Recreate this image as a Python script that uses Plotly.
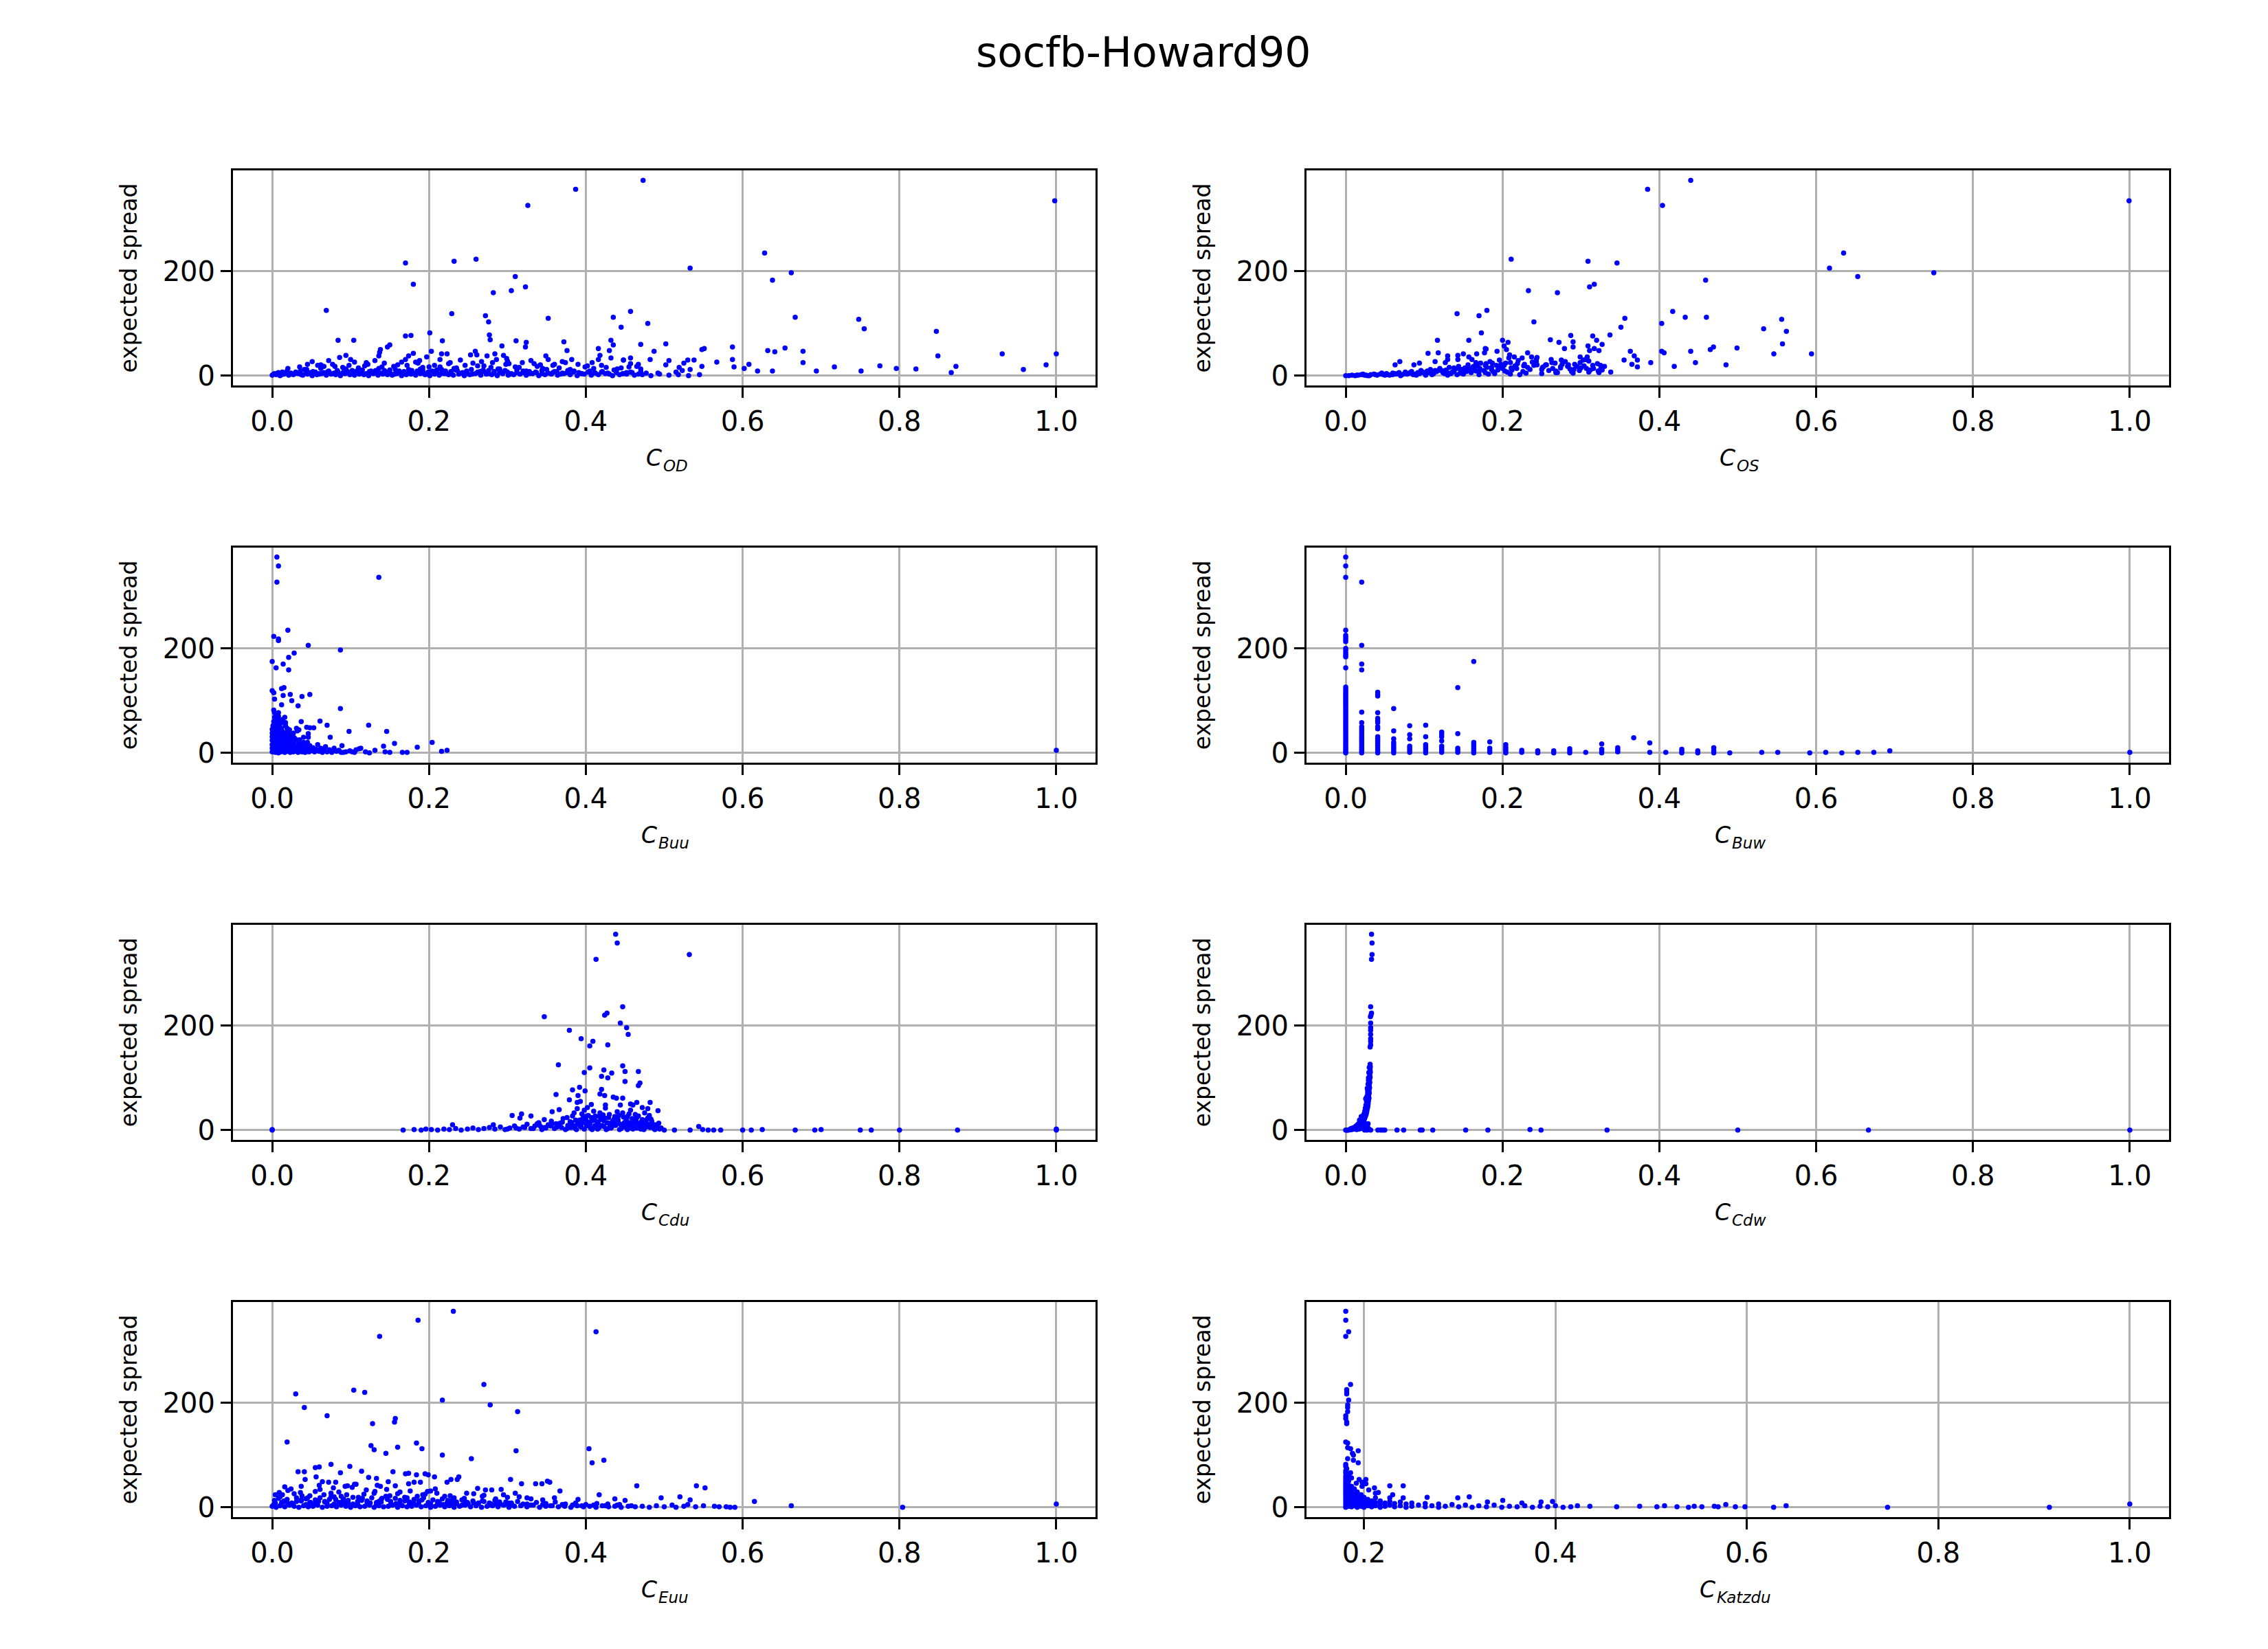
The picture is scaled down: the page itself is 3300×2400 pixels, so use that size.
import plotly.graph_objects as go

# values (x = centrality score, y = expected spread)

od_x = [
    # sparse / outlying nodes
    0.473, 0.387, 0.326, 0.998, 0.170, 0.232, 0.260, 0.628, 0.533, 0.662,
    0.638, 0.310, 0.180, 0.323, 0.305, 0.282, 0.069, 0.229, 0.272, 0.276,
    0.352, 0.435, 0.457, 0.479, 0.445, 0.667, 0.748, 0.755, 0.847, 0.849,
    0.931, 1.000, 0.987, 0.958, 0.866, 0.872, 0.821, 0.796, 0.775, 0.751,
    0.717, 0.694, 0.677, 0.677, 0.654, 0.632, 0.641, 0.608, 0.602, 0.619,
    0.638, 0.587, 0.587, 0.589, 0.567, 0.551, 0.548, 0.548, 0.538, 0.530,
    0.525, 0.533, 0.502, 0.487, 0.470, 0.457, 0.448, 0.432, 0.435, 0.430,
    0.416, 0.418, 0.201, 0.170, 0.177, 0.084, 0.104, 0.150, 0.147, 0.217,
    0.277, 0.278, 0.293, 0.311, 0.324, 0.323, 0.372, 0.376, 0.138, 0.094,
    0.086,
    # middle of the cloud
    0.051, 0.062, 0.072, 0.077, 0.100, 0.120, 0.131, 0.136, 0.137, 0.160,
    0.170, 0.174, 0.180, 0.183, 0.197, 0.203, 0.214, 0.216, 0.223, 0.227,
    0.253, 0.259, 0.261, 0.267, 0.274, 0.284, 0.286, 0.295, 0.299, 0.302,
    0.319, 0.330, 0.334, 0.349, 0.352, 0.360, 0.374, 0.382, 0.399, 0.408,
    0.416, 0.432, 0.448, 0.457, 0.467, 0.482, 0.502, 0.506, 0.519, 0.523,
    # dense band near zero
    0.000, 0.005, 0.010, 0.015, 0.021, 0.027, 0.033, 0.039, 0.045, 0.051,
    0.057, 0.063, 0.069, 0.075, 0.081, 0.087, 0.093, 0.099, 0.105, 0.111,
    0.117, 0.123, 0.129, 0.135, 0.141, 0.147, 0.153, 0.159, 0.165, 0.171,
    0.177, 0.183, 0.189, 0.195, 0.201, 0.207, 0.213, 0.219, 0.225, 0.231,
    0.238, 0.245, 0.252, 0.259, 0.266, 0.273, 0.280, 0.287, 0.294, 0.301,
    0.308, 0.316, 0.324, 0.332, 0.340, 0.348, 0.356, 0.364, 0.372, 0.380,
    0.389, 0.398, 0.407, 0.416, 0.425, 0.434, 0.443, 0.452, 0.462, 0.472,
    0.483, 0.494, 0.506, 0.518, 0.531, 0.545,
    0.008, 0.019, 0.030, 0.041, 0.052, 0.062, 0.073, 0.083, 0.094, 0.104,
    0.115, 0.126, 0.136, 0.146, 0.157, 0.168, 0.178, 0.189, 0.199, 0.210,
    0.221, 0.232, 0.243, 0.254, 0.265, 0.276, 0.288, 0.300, 0.312, 0.324,
    0.337, 0.350, 0.363, 0.377, 0.391, 0.405, 0.420, 0.436, 0.452, 0.470,
    0.492, 0.515,
    0.035, 0.058, 0.090, 0.122, 0.155, 0.186, 0.214, 0.246, 0.279, 0.298,
    0.338, 0.366, 0.402, 0.426, 0.465,
    0.003, 0.013, 0.024, 0.036, 0.048, 0.060, 0.071, 0.079, 0.091, 0.102,
    0.113, 0.124, 0.133, 0.143, 0.151, 0.162, 0.174, 0.185, 0.193, 0.205,
    0.216, 0.228, 0.236, 0.249, 0.262, 0.270, 0.283, 0.291, 0.305, 0.320,
    0.328, 0.344, 0.358, 0.370, 0.384, 0.395, 0.411, 0.428, 0.447, 0.459,
    0.020, 0.044, 0.066, 0.098, 0.110, 0.140, 0.165, 0.192, 0.207, 0.235,
    0.256, 0.270, 0.290, 0.310, 0.345, 0.358, 0.380, 0.410, 0.440, 0.455,
    0.002, 0.007, 0.012, 0.018, 0.024, 0.030, 0.037, 0.043, 0.049, 0.055,
    0.060, 0.066, 0.072, 0.078, 0.084, 0.090, 0.096, 0.102, 0.108, 0.114,
    0.120, 0.126, 0.132, 0.138, 0.144, 0.150, 0.156, 0.162, 0.168, 0.174,
    0.180, 0.186, 0.192, 0.198, 0.204, 0.210, 0.216, 0.222, 0.228, 0.234,
    0.241, 0.248, 0.255, 0.262, 0.269, 0.276, 0.283, 0.290, 0.297, 0.304,
    0.312, 0.320, 0.328, 0.336, 0.344, 0.352, 0.360, 0.368, 0.376, 0.385,
    0.394, 0.403, 0.412, 0.421, 0.430, 0.439, 0.448, 0.457, 0.467, 0.477,
    0.045, 0.080, 0.105, 0.118, 0.143, 0.172, 0.188, 0.200, 0.225, 0.240,
    0.262, 0.281, 0.300, 0.315, 0.342, 0.370, 0.390, 0.420, 0.445, 0.470,
]
od_y = [
    374, 357, 326, 335, 216, 219, 223, 235, 206, 197,
    183, 190, 175, 170, 163, 159, 125, 119, 115, 103,
    110, 112, 123, 100, 93, 112, 108, 90, 85, 38,
    42, 42, 21, 12, 6, 18, 13, 14, 19, 9,
    17, 9, 47, 25, 53, 48, 46, 22, 14, 9,
    9, 55, 31, 17, 26, 52, 50, 18, 30, 30,
    24, 12, 61, 47, 60, 34, 30, 68, 59, 48,
    52, 39, 82, 76, 77, 68, 68, 59, 55, 67,
    78, 69, 57, 67, 64, 55, 65, 48, 50, 39,
    35,
    27, 21, 29, 22, 31, 25, 29, 38, 45, 21,
    31, 38, 43, 26, 36, 47, 31, 42, 42, 25,
    40, 47, 40, 27, 38, 42, 31, 39, 33, 23,
    25, 29, 23, 38, 31, 22, 25, 31, 17, 25,
    31, 34, 30, 23, 22, 31, 21, 29, 16, 10,
    1, 2, 0, 3, 1, 2, 4, 1, 3, 0,
    2, 4, 1, 3, 2, 0, 4, 2, 1, 3,
    2, 0, 4, 1, 3, 2, 1, 4, 0, 2,
    3, 1, 4, 2, 0, 3, 1, 4, 2, 1,
    3, 0, 2, 4, 1, 3, 2, 0, 4, 1,
    2, 3, 1, 4, 0, 2, 3, 1, 4, 2,
    0, 3, 1, 2, 4, 0, 2, 3, 1, 2,
    0, 3, 1, 2, 0, 2,
    6, 9, 7, 12, 8, 14, 6, 10, 13, 7,
    11, 9, 14, 6, 12, 8, 10, 13, 7, 11,
    9, 14, 6, 12, 8, 10, 13, 7, 11, 9,
    6, 12, 8, 10, 6, 9, 7, 11, 6, 8,
    5, 7,
    17, 20, 16, 22, 18, 24, 17, 20, 16, 22,
    18, 15, 19, 16, 18,
    4, 7, 5, 9, 6, 4, 8, 5, 7, 10,
    5, 8, 6, 10, 4, 7, 5, 9, 6, 8,
    5, 7, 10, 4, 6, 8, 5, 9, 4, 6,
    8, 4, 6, 5, 7, 4, 6, 5, 4, 6,
    14, 12, 18, 20, 15, 17, 26, 16, 20, 15,
    24, 19, 13, 17, 14, 20, 12, 14, 13, 17,
    3, 5, 2, 6, 3, 5, 2, 6, 4, 7,
    3, 6, 9, 4, 7, 5, 8, 3, 9, 6,
    4, 7, 10, 5, 8, 11, 3, 9, 6, 12,
    5, 8, 11, 3, 9, 6, 12, 4, 8, 11,
    5, 9, 3, 7, 11, 4, 8, 6, 10, 3,
    6, 9, 4, 7, 10, 5, 8, 3, 6, 9,
    4, 7, 5, 8, 3, 6, 4, 7, 3, 5,
    22, 18, 26, 19, 24, 20, 29, 17, 23, 30,
    19, 25, 28, 16, 21, 27, 22, 20, 15, 13,
]

os_x = [
    0.440, 0.385, 0.404, 0.999, 0.211, 0.309, 0.346, 0.635, 0.617, 0.653,
    0.750, 0.459, 0.311, 0.317, 0.233, 0.270, 0.142, 0.170, 0.180, 0.240,
    0.356, 0.351, 0.417, 0.433, 0.460, 0.403, 0.556, 0.533, 0.562, 0.557,
    0.546, 0.594, 0.499, 0.485, 0.469, 0.465, 0.446, 0.440, 0.419, 0.406,
    0.403, 0.389, 0.372, 0.372, 0.368, 0.363, 0.365, 0.355, 0.337, 0.327,
    0.320, 0.315, 0.317, 0.311, 0.323, 0.309, 0.290, 0.290, 0.287, 0.279,
    0.272, 0.261, 0.173, 0.157, 0.117, 0.200, 0.207, 0.179, 0.118, 0.105,
    0.130, 0.143, 0.150, 0.167, 0.325, 0.327, 0.325, 0.268, 0.299, 0.306,
    0.063, 0.069, 0.087, 0.094, 0.114, 0.127, 0.130, 0.143, 0.157, 0.161,
    0.166, 0.177, 0.178, 0.193, 0.202, 0.205, 0.209, 0.215, 0.225, 0.232,
    0.237, 0.243, 0.244, 0.255, 0.263, 0.274, 0.284, 0.295, 0.303, 0.308,
    0.321,
    0.000, 0.004, 0.008, 0.012, 0.016, 0.020, 0.024, 0.028, 0.032, 0.036,
    0.040, 0.044, 0.048, 0.052, 0.056, 0.060, 0.064, 0.068, 0.072, 0.076,
    0.080, 0.084, 0.088, 0.092, 0.096, 0.100, 0.104, 0.108, 0.112, 0.116,
    0.120, 0.124, 0.128, 0.132, 0.136, 0.140, 0.144, 0.148, 0.152, 0.156,
    0.160, 0.164, 0.168, 0.172, 0.176, 0.180, 0.184, 0.188, 0.192, 0.196,
    0.200, 0.204, 0.208, 0.212, 0.216, 0.220, 0.226, 0.232, 0.238, 0.244,
    0.250, 0.256, 0.262, 0.268, 0.274, 0.280, 0.286, 0.292, 0.298, 0.304,
    0.310, 0.316, 0.322, 0.330, 0.338,
    0.030, 0.050, 0.070, 0.090, 0.110, 0.130, 0.150, 0.170, 0.190, 0.210,
    0.230, 0.250, 0.270, 0.290, 0.310, 0.102, 0.142, 0.182, 0.222,
    0.022, 0.046, 0.066, 0.086, 0.106, 0.126, 0.146, 0.166, 0.186, 0.206,
    0.118, 0.138, 0.158, 0.178, 0.198,
    0.060, 0.075, 0.090, 0.098, 0.110, 0.122, 0.134, 0.146, 0.154, 0.162,
    0.170, 0.178, 0.186, 0.194, 0.202, 0.210, 0.218, 0.228, 0.240, 0.252,
    0.264, 0.276, 0.288, 0.300, 0.312,
    0.014, 0.026, 0.038, 0.054, 0.062, 0.078, 0.082, 0.094, 0.103, 0.114,
    0.124, 0.131, 0.138, 0.148, 0.156, 0.163, 0.171, 0.179, 0.187, 0.195,
    0.203, 0.211, 0.219, 0.227, 0.235, 0.243, 0.251, 0.259, 0.267, 0.275,
    0.283, 0.291, 0.299, 0.307, 0.315, 0.323,
]
os_y = [
    374, 357, 326, 335, 223, 219, 216, 235, 206, 190,
    197, 183, 170, 175, 163, 159, 119, 115, 125, 103,
    110, 93, 123, 112, 112, 100, 108, 90, 85, 61,
    42, 42, 53, 21, 55, 50, 25, 47, 18, 44,
    47, 25, 17, 30, 38, 47, 22, 30, 78, 60,
    68, 76, 52, 48, 48, 57, 65, 55, 77, 52,
    64, 69, 82, 68, 68, 68, 64, 51, 44, 43,
    38, 39, 42, 42, 12, 11, 20, 6, 36, 31,
    21, 27, 21, 24, 27, 25, 31, 31, 36, 31,
    25, 44, 52, 47, 57, 50, 40, 36, 34, 44,
    36, 31, 21, 21, 25, 15, 21, 18, 30, 36,
    23,
    0, 0, 1, 0, 1, 2, 1, 0, 2, 3,
    1, 3, 2, 4, 1, 5, 3, 6, 2, 7,
    4, 8, 3, 6, 10, 5, 9, 12, 4, 8,
    14, 6, 11, 16, 7, 13, 18, 9, 15, 21,
    6, 12, 19, 24, 10, 16, 27, 8, 20, 30,
    14, 24, 34, 11, 19, 29, 8, 16, 26, 35,
    12, 21, 31, 9, 17, 27, 13, 22, 10, 19,
    28, 14, 9, 18, 7,
    0, 1, 0, 1, 2, 1, 3, 2, 4, 3,
    5, 4, 6, 5, 7, 1, 2, 3, 2,
    3, 5, 4, 2, 6, 4, 5, 9, 12, 7,
    10, 8, 14, 6, 22,
    2, 4, 2, 7, 6, 10, 4, 12, 8, 16,
    8, 20, 16, 11, 20, 25, 14, 22, 20, 17,
    14, 22, 8, 15, 11,
    1, 1, 2, 2, 4, 3, 6, 4, 7, 10,
    9, 5, 15, 12, 10, 18, 14, 23, 24, 17,
    9, 15, 23, 19, 12, 27, 16, 10, 24, 30,
    18, 12, 25, 14, 20, 6,
]

buu_x = [
    0.006, 0.008, 0.006, 0.136, 0.020, 0.002, 0.008, 0.008, 0.046, 0.087,
    0.028, 0.021, 0.000, 0.005, 0.014, 0.021, 0.000, 0.002, 0.012, 0.015,
    0.014, 0.023, 0.048, 0.038, 0.025, 0.003, 0.012, 0.033, 0.087, 0.002,
    0.008, 0.003, 0.016, 0.037, 0.061, 0.070, 0.123, 0.146, 0.098, 0.074,
    0.053, 0.044, 0.048, 0.034, 0.031, 0.046, 0.046, 0.089, 0.142, 0.156,
    0.185, 0.204, 0.216, 0.223, 0.166, 0.172, 0.150, 0.144, 0.131, 0.124,
    0.119, 0.113, 0.111, 0.107, 0.105, 0.094, 0.091, 1.000,
    0.000, 0.000, 0.000, 0.000, 0.000, 0.000, 0.000, 0.001, 0.001, 0.001,
    0.002, 0.002, 0.002, 0.002, 0.003, 0.003, 0.003, 0.004, 0.004, 0.004,
    0.005, 0.005, 0.005, 0.006, 0.006, 0.006, 0.007, 0.007, 0.007, 0.008,
    0.008, 0.008, 0.008, 0.009, 0.009, 0.009, 0.010, 0.010, 0.011, 0.011,
    0.011, 0.012, 0.012, 0.013, 0.013, 0.013, 0.014, 0.014, 0.015, 0.015,
    0.016, 0.016, 0.017, 0.017, 0.018, 0.018, 0.019, 0.020, 0.020, 0.021,
    0.022, 0.022, 0.023, 0.023, 0.024, 0.025, 0.026, 0.026, 0.027, 0.028,
    0.029, 0.030, 0.031, 0.032, 0.033, 0.034, 0.035, 0.036, 0.037, 0.038,
    0.039, 0.040, 0.041, 0.042, 0.043, 0.044, 0.045, 0.046, 0.047, 0.048,
    0.050, 0.052, 0.054, 0.056, 0.058, 0.060, 0.062, 0.064, 0.066, 0.068,
    0.070, 0.073, 0.076, 0.079, 0.082, 0.085, 0.088, 0.099, 0.102,
    0.001, 0.002, 0.003, 0.004, 0.005, 0.006, 0.007, 0.009, 0.010, 0.012,
    0.014, 0.016, 0.018, 0.019, 0.021, 0.024, 0.027, 0.030, 0.032, 0.035,
    0.003, 0.006, 0.010, 0.013, 0.017, 0.020, 0.024, 0.028, 0.034, 0.040,
]
buu_y = [
    375, 358, 327, 336, 235, 223, 218, 215, 206, 197,
    191, 183, 175, 163, 170, 159, 119, 115, 123, 125,
    110, 112, 112, 108, 100, 103, 92, 90, 85, 82,
    77, 77, 68, 60, 61, 53, 53, 41, 41, 30,
    48, 49, 48, 44, 47, 37, 30, 14, 13, 18,
    11, 20, 3, 5, 1, 1, 1, 2, 5, 0,
    2, 9, 8, 6, 1, 2, 1, 5,
    2, 9, 16, 24, 31, 38, 45, 52, 4, 12,
    20, 28, 36, 60, 6, 14, 42, 1, 22, 48,
    10, 30, 56, 3, 18, 66, 8, 26, 40, 0,
    14, 34, 70, 5, 22, 50, 11, 29, 2, 17,
    44, 7, 25, 13, 36, 58, 4, 20, 9, 30,
    1, 15, 24, 52, 6, 39, 12, 3, 19, 28,
    8, 44, 1, 15, 24, 5, 11, 34, 2, 18,
    7, 26, 3, 13, 1, 21, 8, 4, 15, 2,
    10, 30, 6, 1, 12, 4, 20, 8, 2, 14,
    5, 10, 2, 7, 16, 3, 9, 1, 5, 12,
    2, 6, 1, 9, 3, 5, 1, 4, 2,
    28, 46, 33, 55, 44, 49, 60, 36, 62, 47,
    40, 33, 26, 47, 37, 32, 38, 13, 42, 25,
    68, 74, 56, 64, 58, 10, 6, 29, 11, 20,
]

# C_Buw takes only a few discrete values, so the points stack in columns
buw_x = [
    0.0, 0.0, 0.0, 0.0, 0.0, 0.0, 0.0, 0.0, 0.0, 0.0,
    0.0, 0.0, 0.0, 0.0, 0.0, 0.0, 0.0, 0.0, 0.0, 0.0,
    0.0, 0.0, 0.0, 0.0, 0.0, 0.0, 0.0, 0.0, 0.0, 0.0,
    0.0, 0.0, 0.0, 0.0, 0.0, 0.0, 0.0, 0.0, 0.0, 0.0,
    0.0, 0.0, 0.0, 0.0, 0.0, 0.0, 0.0,
    0.0204, 0.0204, 0.0204, 0.0204, 0.0204, 0.0204, 0.0204, 0.0204, 0.0204, 0.0204,
    0.0204, 0.0204, 0.0204, 0.0204, 0.0204, 0.0204, 0.0204, 0.0204, 0.0204, 0.0204,
    0.0408, 0.0408, 0.0408, 0.0408, 0.0408, 0.0408, 0.0408, 0.0408, 0.0408, 0.0408,
    0.0408, 0.0408, 0.0408, 0.0408, 0.0408, 0.0408, 0.0408, 0.0408,
    0.0612, 0.0612, 0.0612, 0.0612, 0.0612, 0.0612, 0.0612, 0.0612, 0.0612,
    0.0816, 0.0816, 0.0816, 0.0816, 0.0816, 0.0816, 0.0816,
    0.1020, 0.1020, 0.1020, 0.1020, 0.1020, 0.1020, 0.1020,
    0.1224, 0.1224, 0.1224, 0.1224, 0.1224, 0.1224, 0.1224, 0.1224,
    0.1429, 0.1429, 0.1429, 0.1429, 0.1429,
    0.1633, 0.1633, 0.1633, 0.1633, 0.1633, 0.1633, 0.1633,
    0.1837, 0.1837, 0.1837, 0.1837,
    0.2041, 0.2041, 0.2041, 0.2041, 0.2041,
    0.2245, 0.2245,
    0.2449, 0.2449,
    0.2653, 0.2653,
    0.2857, 0.2857, 0.2857,
    0.3061,
    0.3265, 0.3265, 0.3265, 0.3265,
    0.3469, 0.3469, 0.3469,
    0.3673,
    0.3878, 0.3878,
    0.4082,
    0.4286, 0.4286, 0.4286,
    0.4490, 0.4490,
    0.4694, 0.4694, 0.4694,
    0.4898,
    0.5306, 0.5510, 0.5918, 0.6122, 0.6327, 0.6531, 0.6735, 0.6939, 1.0,
]
buw_y = [
    375, 358, 336, 235, 225, 221, 217, 213, 200, 196,
    191, 187, 184, 163, 126, 122, 118, 114, 110, 106,
    102, 98, 94, 90, 86, 82, 78, 74, 70, 66,
    62, 58, 54, 50, 46, 42, 38, 34, 30, 26,
    22, 18, 14, 10, 6, 2, 0,
    327, 206, 170, 159, 78, 58, 50, 46, 42, 38,
    34, 30, 26, 22, 18, 14, 10, 6, 2, 0,
    116, 112, 109, 77, 66, 62, 58, 50, 46, 31,
    27, 23, 19, 15, 11, 7, 3, 0,
    85, 42, 27, 20, 16, 12, 8, 4, 0,
    52, 35, 27, 13, 9, 5, 1,
    53, 31, 16, 12, 8, 4, 0,
    40, 36, 31, 23, 13, 9, 5, 1,
    125, 37, 9, 5, 1,
    175, 20, 16, 12, 8, 4, 0,
    21, 9, 5, 1,
    16, 11, 7, 3, 0,
    5, 1,
    4, 0,
    4, 0,
    8, 4, 0,
    1,
    17, 7, 3, 0,
    10, 6, 2,
    29,
    19, 1,
    1,
    7, 3, 0,
    4, 0,
    10, 4, 0,
    0,
    1, 1, 0, 1, 0, 1, 1, 4, 1,
]

cdu_x = [
    0.438, 0.440, 0.413, 0.532, 0.447, 0.427, 0.424, 0.347, 0.444, 0.452,
    0.454, 0.379, 0.394, 0.409, 0.405, 0.428, 0.365, 0.405, 0.398, 0.423,
    0.433, 0.420, 0.428, 0.447, 0.450, 0.467, 0.450, 0.469, 0.467, 0.392,
    0.383, 0.399, 0.420, 0.362, 0.379, 0.390, 0.389, 0.393, 0.418, 0.424,
    0.435, 0.439, 0.447, 0.482, 0.465, 0.479, 0.472, 0.492, 0.457, 0.460,
    0.444, 0.407, 0.425, 0.402, 0.389, 0.398, 0.366, 0.357, 0.318, 0.306,
    0.316, 0.330, 0.347, 0.230, 0.282,
    0.000, 0.000, 0.167, 0.181, 0.190, 0.196, 0.203, 0.211, 0.219, 0.226,
    0.234, 0.241, 0.249, 0.256, 0.263, 0.270, 0.277, 0.284, 0.291, 0.297,
    0.303, 0.309, 0.315, 0.320, 0.325, 0.330, 0.335, 0.340, 0.344, 0.348,
    0.352, 0.356, 0.360, 0.364, 0.367, 0.371, 0.374, 0.377, 0.380, 0.383,
    0.386, 0.389, 0.392, 0.395, 0.398, 0.401, 0.404, 0.407, 0.410, 0.413,
    0.416, 0.419, 0.422, 0.425, 0.428, 0.431, 0.434, 0.437, 0.440, 0.443,
    0.446, 0.449, 0.452, 0.455, 0.458, 0.461, 0.464, 0.467, 0.470, 0.473,
    0.476, 0.479, 0.482, 0.485, 0.488, 0.491, 0.494, 0.500, 0.513, 0.533,
    0.544, 0.549, 0.556, 0.563, 0.572, 0.600, 0.611, 0.625, 0.667, 0.692,
    0.700, 0.750, 0.764, 0.800, 0.874, 1.000, 1.000,
    0.400, 0.403, 0.406, 0.409, 0.412, 0.415, 0.418, 0.421, 0.424, 0.427,
    0.430, 0.433, 0.436, 0.439, 0.442, 0.445, 0.448, 0.451, 0.454, 0.457,
    0.460, 0.463, 0.466, 0.469, 0.472, 0.475, 0.478, 0.481, 0.484, 0.487,
    0.376, 0.381, 0.385, 0.391, 0.396, 0.362, 0.369, 0.355, 0.343, 0.338,
    0.384, 0.388, 0.394, 0.397, 0.402, 0.408, 0.411, 0.414, 0.417, 0.423,
    0.426, 0.429, 0.432, 0.438, 0.441, 0.444, 0.450, 0.453, 0.456, 0.459,
    0.462, 0.465, 0.468, 0.471, 0.474, 0.477, 0.480, 0.486, 0.490, 0.496,
    0.300, 0.311, 0.322, 0.333, 0.341, 0.349, 0.357, 0.363, 0.370, 0.376,
    0.382, 0.387, 0.393, 0.399, 0.405, 0.411, 0.417, 0.423, 0.429, 0.435,
    0.441, 0.447, 0.453, 0.459, 0.465, 0.471, 0.477, 0.483, 0.489, 0.493,
]
cdu_y = [
    375, 358, 327, 336, 236, 224, 220, 217, 205, 196,
    183, 191, 175, 170, 161, 163, 125, 119, 110, 115,
    109, 103, 100, 123, 112, 112, 93, 90, 85, 82,
    77, 75, 78, 68, 58, 66, 53, 55, 69, 66,
    63, 61, 61, 53, 53, 41, 43, 37, 50, 48,
    48, 49, 48, 43, 41, 38, 39, 35, 31, 28,
    23, 27, 20, 10, 10,
    0, 1, 0, 1, 0, 2, 1, 0, 2, 1,
    3, 0, 2, 4, 1, 3, 5, 2, 6, 1,
    4, 8, 2, 6, 11, 3, 8, 14, 1, 5,
    10, 17, 3, 7, 13, 22, 1, 9, 16, 27,
    4, 11, 19, 31, 2, 8, 15, 24, 36, 5,
    12, 20, 29, 42, 3, 9, 17, 26, 35, 1,
    7, 14, 22, 31, 4, 11, 19, 27, 2, 8,
    15, 23, 5, 12, 1, 6, 2, 0, 0, 0,
    7, 1, 0, 0, 0, 0, 0, 1, 0, 0,
    1, 0, 0, 0, 0, 0, 2,
    20, 28, 4, 18, 27, 2, 33, 9, 23, 14,
    30, 6, 21, 12, 28, 3, 25, 17, 9, 38,
    2, 30, 13, 6, 20, 33, 9, 28, 17, 3,
    24, 5, 33, 12, 22, 12, 5, 8, 6, 12,
    8, 1, 6, 14, 11, 1, 8, 16, 5, 7,
    1, 13, 4, 9, 16, 11, 6, 1, 14, 7,
    16, 4, 10, 13, 1, 6, 11, 7, 10, 4,
    2, 4, 5, 3, 9, 4, 12, 6, 15, 3,
    14, 19, 8, 26, 12, 22, 26, 18, 24, 14,
    20, 33, 26, 22, 24, 16, 19, 21, 8, 13,
]

cdw_x = [
    0.0329, 0.0336, 0.0336, 0.0329, 0.0318, 0.0329, 0.0322, 0.0315, 0.0318, 0.0318,
    0.0318, 0.0318, 0.0318, 0.0318, 0.0318, 0.0311,
    0.0311, 0.0314, 0.0311, 0.0314, 0.0307, 0.0311, 0.0304, 0.0307, 0.0300, 0.0304,
    0.0297, 0.0300, 0.0293, 0.0297, 0.0290, 0.0286, 0.0283, 0.0279, 0.0272, 0.0268,
    0.0262, 0.0255, 0.0248, 0.0240, 0.0233, 0.0224, 0.0216, 0.0205, 0.0194, 0.0184,
    0.0173, 0.0160, 0.0148, 0.0134, 0.0120, 0.0106, 0.0092, 0.0078, 0.0064, 0.0050,
    0.0036, 0.0022, 0.0010, 0.0000,
    0.0255, 0.0262, 0.0248, 0.0233, 0.0220, 0.0205, 0.0190, 0.0170, 0.0150, 0.0130,
    0.0110, 0.0090, 0.0070, 0.0176, 0.0198, 0.0280, 0.0275, 0.0290, 0.0295, 0.0300,
    0.0200, 0.0180, 0.0160, 0.0140, 0.0220, 0.0240,
    0.0318, 0.0410, 0.0445, 0.0470, 0.0498, 0.0654, 0.0739, 0.0951, 0.0975, 0.1110,
    0.1530, 0.1813, 0.2350, 0.2491, 0.3333, 0.5000, 0.6667, 1.0000, 0.0240, 0.0270,
    0.0290,
    0.0290, 0.0285, 0.0280, 0.0270, 0.0265, 0.0258, 0.0250, 0.0243, 0.0235, 0.0228,
    0.0210, 0.0195, 0.0180, 0.0165, 0.0150, 0.0135, 0.0120, 0.0100, 0.0080, 0.0060,
    0.0250, 0.0265, 0.0280, 0.0295, 0.0305, 0.0230, 0.0210, 0.0190, 0.0170, 0.0285,
]
cdw_y = [
    375, 358, 336, 327, 236, 224, 220, 217, 205, 196,
    191, 183, 175, 170, 163, 159,
    126, 121, 116, 111, 106, 101, 96, 91, 86, 81,
    76, 71, 66, 61, 56, 51, 47, 43, 39, 35,
    31, 28, 25, 22, 19, 16, 14, 12, 10, 8,
    7, 6, 5, 4, 3, 2, 2, 1, 1, 1,
    0, 0, 0, 0,
    60, 45, 35, 30, 25, 20, 15, 12, 9, 7,
    5, 4, 3, 19, 26, 70, 80, 95, 110, 120,
    6, 4, 2, 1, 9, 13,
    0, 0, 0, 0, 0, 0, 0, 0, 0, 0,
    0, 0, 1, 0, 0, 0, 0, 0, 0, 0,
    1,
    100, 88, 75, 64, 55, 48, 42, 36, 31, 27,
    22, 18, 15, 12, 10, 8, 6, 4, 3, 2,
    3, 4, 6, 2, 1, 8, 7, 3, 2, 12,
]

euu_x = [
    0.231, 0.186, 0.137, 0.413, 0.270, 0.030, 0.104, 0.118, 0.217, 0.278,
    0.041, 0.313, 0.070, 0.157, 0.156, 0.128, 0.019, 0.126, 0.130, 0.160,
    0.184, 0.191, 0.145, 0.217, 0.254, 0.311, 0.404, 0.408, 0.423, 0.075,
    0.099, 0.060, 0.055, 0.033, 0.041, 0.087, 0.114, 0.154, 0.170, 0.174,
    0.195, 0.199, 0.184, 0.207, 0.238, 0.236, 0.228, 0.123, 0.133, 0.056,
    0.042, 0.064, 0.304, 0.318, 0.336, 0.344, 0.351, 0.354, 0.367, 0.465,
    0.541, 0.552, 0.417, 0.437, 0.450, 0.496, 0.520, 0.533, 0.615, 0.662,
    0.804, 1.000, 0.564, 0.579, 0.584, 0.016, 0.009, 0.004, 0.037, 0.060,
    0.072, 0.081, 0.105, 0.107, 0.078, 0.093, 0.096, 0.134, 0.138, 0.157,
    0.174, 0.181, 0.189, 0.148, 0.262, 0.272, 0.280, 0.292, 0.310, 0.223,
    0.202, 0.198,
    0.000, 0.005, 0.010, 0.016, 0.022, 0.028, 0.034, 0.040, 0.046, 0.052,
    0.058, 0.064, 0.070, 0.076, 0.082, 0.088, 0.094, 0.100, 0.106, 0.112,
    0.118, 0.124, 0.130, 0.136, 0.142, 0.148, 0.154, 0.160, 0.166, 0.172,
    0.178, 0.184, 0.190, 0.196, 0.202, 0.208, 0.214, 0.220, 0.226, 0.232,
    0.239, 0.246, 0.253, 0.260, 0.267, 0.274, 0.281, 0.288, 0.295, 0.302,
    0.309, 0.317, 0.325, 0.333, 0.341, 0.349, 0.357, 0.365, 0.373, 0.381,
    0.389, 0.397, 0.405, 0.413, 0.421, 0.429, 0.437, 0.445, 0.454, 0.463,
    0.472, 0.481, 0.490, 0.500, 0.510, 0.515, 0.525, 0.530, 0.540, 0.550,
    0.570, 0.590,
    0.004, 0.015, 0.026, 0.037, 0.048, 0.059, 0.070, 0.081, 0.092, 0.103,
    0.114, 0.125, 0.136, 0.147, 0.158, 0.169, 0.180, 0.191, 0.202, 0.213,
    0.224, 0.235, 0.246, 0.257, 0.268, 0.279, 0.290, 0.301, 0.313, 0.325,
    0.337, 0.349, 0.361, 0.374, 0.387, 0.400, 0.414, 0.428, 0.443,
    0.010, 0.028, 0.045, 0.066, 0.085, 0.110, 0.130, 0.150, 0.172, 0.195,
    0.220, 0.245, 0.270, 0.300, 0.330, 0.360, 0.390,
    0.002, 0.012, 0.020, 0.031, 0.043, 0.055, 0.067, 0.079, 0.090, 0.097,
    0.109, 0.121, 0.133, 0.139, 0.151, 0.163, 0.175, 0.187, 0.199, 0.211,
    0.218, 0.229, 0.242, 0.250, 0.263, 0.276, 0.285, 0.297, 0.306, 0.320,
    0.330, 0.345, 0.355, 0.370, 0.383, 0.395, 0.410, 0.425, 0.440, 0.458,
    0.020, 0.038, 0.055, 0.075, 0.095, 0.120, 0.140, 0.163, 0.185, 0.210,
    0.232, 0.257, 0.285, 0.315, 0.345,
    0.003, 0.008, 0.014, 0.019, 0.025, 0.031, 0.037, 0.043, 0.049, 0.055,
    0.061, 0.067, 0.073, 0.079, 0.085, 0.091, 0.097, 0.103, 0.109, 0.115,
    0.121, 0.127, 0.133, 0.139, 0.145, 0.151, 0.157, 0.163, 0.169, 0.175,
    0.181, 0.187, 0.193, 0.199, 0.205, 0.211, 0.217, 0.223, 0.229, 0.235,
    0.242, 0.249, 0.256, 0.263, 0.270, 0.277, 0.284, 0.291, 0.298, 0.305,
    0.013, 0.024, 0.036, 0.048, 0.061, 0.075, 0.088, 0.102, 0.117, 0.131,
    0.146, 0.160, 0.176, 0.192, 0.208, 0.227, 0.248, 0.268, 0.295, 0.325,
]
euu_y = [
    375, 358, 327, 336, 235, 217, 224, 220, 205, 196,
    191, 183, 175, 170, 163, 160, 125, 118, 110, 115,
    123, 112, 103, 100, 93, 108, 112, 85, 90, 82,
    78, 77, 76, 68, 68, 66, 69, 68, 64, 65,
    64, 62, 62, 58, 58, 53, 53, 57, 55, 58,
    53, 49, 53, 45, 45, 45, 50, 48, 31, 41,
    41, 37, 24, 16, 13, 18, 20, 14, 11, 3,
    0, 6, 2, 1, 0, 39, 28, 24, 40, 42,
    48, 48, 44, 44, 37, 40, 41, 42, 40, 41,
    45, 48, 48, 49, 36, 33, 33, 34, 27, 48,
    31, 30,
    2, 0, 3, 1, 4, 2, 0, 3, 1, 2,
    4, 0, 2, 3, 1, 4, 2, 0, 3, 1,
    2, 4, 0, 3, 1, 2, 4, 0, 3, 1,
    2, 4, 1, 3, 0, 2, 4, 1, 3, 0,
    2, 4, 1, 3, 0, 2, 3, 1, 4, 0,
    2, 3, 1, 4, 0, 2, 3, 1, 2, 0,
    3, 1, 2, 0, 3, 1, 2, 0, 2, 1,
    2, 0, 3, 1, 4, 0, 2, 5, 1, 3,
    1, 0,
    8, 12, 6, 14, 9, 11, 7, 15, 10, 6,
    13, 8, 11, 15, 7, 12, 9, 14, 6, 10,
    13, 7, 11, 8, 12, 6, 10, 8, 11, 6,
    9, 7, 10, 6, 8, 5, 7, 6, 5,
    20, 26, 18, 24, 29, 19, 27, 22, 18, 25,
    21, 17, 23, 19, 16, 18, 15,
    5, 9, 7, 11, 5, 8, 10, 6, 12, 8,
    5, 9, 6, 10, 4, 7, 5, 9, 6, 8,
    5, 7, 4, 6, 8, 4, 6, 5, 4, 6,
    4, 5, 3, 5, 4, 3, 4, 3, 4, 3,
    32, 22, 30, 20, 24, 33, 17, 29, 21, 27,
    18, 26, 16, 20, 14,
    13, 17, 10, 15, 8, 18, 12, 16, 9, 14,
    18, 11, 15, 20, 9, 16, 13, 19, 11, 17,
    12, 18, 9, 15, 21, 11, 17, 13, 19, 10,
    15, 12, 18, 9, 14, 11, 16, 8, 13, 10,
    14, 9, 12, 7, 11, 8, 13, 6, 10, 8,
    24, 35, 28, 22, 34, 27, 21, 38, 25, 30,
    34, 26, 31, 24, 35, 22, 27, 21, 24, 18,
]

katz_x = [
    0.181, 0.181, 0.184, 0.181, 0.186, 0.182, 0.182, 0.182, 0.184, 0.183,
    0.183, 0.183, 0.181, 0.181, 0.182, 0.182, 0.181, 0.183, 0.186, 0.183,
    0.194, 0.188, 0.189, 0.183, 0.189, 0.194, 0.181, 0.181, 0.182, 0.181,
    0.181, 0.186, 0.184, 0.183, 0.187, 0.202, 0.202, 0.195, 0.198, 0.227,
    0.241, 0.211, 0.212, 0.266, 0.298, 0.310, 0.345, 0.241, 0.227, 0.397,
    0.385, 0.365, 0.329,
    0.423, 0.436, 0.464, 0.488, 0.506, 0.514, 0.527, 0.539, 0.545, 0.553,
    0.566, 0.570, 0.578, 0.588, 0.598, 0.628, 0.641, 0.747, 0.916, 1.000,
    0.181, 0.181, 0.181, 0.181, 0.181, 0.181, 0.181, 0.181, 0.181, 0.181,
    0.181, 0.181, 0.181, 0.181, 0.181, 0.181, 0.184, 0.184, 0.184, 0.184,
    0.184, 0.184, 0.184, 0.187, 0.187, 0.187, 0.187, 0.187, 0.187, 0.190,
    0.190, 0.190, 0.190, 0.190, 0.193, 0.193, 0.193, 0.193, 0.193, 0.197,
    0.197, 0.197, 0.197, 0.200, 0.200, 0.200, 0.200, 0.204, 0.204, 0.204,
    0.208, 0.208, 0.208, 0.212, 0.212, 0.212, 0.217, 0.217, 0.217, 0.222,
    0.222, 0.227, 0.227, 0.232, 0.232, 0.238, 0.238, 0.244, 0.244, 0.250,
    0.250, 0.257, 0.264, 0.264, 0.271, 0.278, 0.278, 0.285, 0.292, 0.299,
    0.306, 0.313, 0.320, 0.328, 0.336, 0.344, 0.352, 0.360, 0.368, 0.376,
    0.384, 0.392, 0.400, 0.408, 0.416, 0.230, 0.215, 0.205, 0.198, 0.192,
]
katz_y = [
    375, 358, 336, 327, 235, 225, 221, 217, 205, 196,
    191, 183, 175, 170, 163, 160, 125, 123, 112, 114,
    108, 103, 100, 93, 90, 85, 82, 78, 74, 70,
    66, 66, 62, 58, 56, 53, 45, 53, 48, 41,
    41, 37, 27, 19, 18, 20, 13, 18, 18, 11,
    10, 8, 10,
    3, 2, 1, 2, 1, 3, 1, 0, 2, 1,
    2, 1, 5, 1, 1, 0, 3, 0, 0, 6,
    0, 4, 8, 12, 16, 20, 24, 28, 32, 36,
    40, 44, 48, 52, 56, 60, 2, 10, 18, 26,
    34, 42, 50, 1, 7, 14, 22, 30, 40, 3,
    9, 17, 25, 35, 0, 6, 13, 21, 29, 2,
    8, 16, 24, 0, 5, 11, 19, 3, 9, 15,
    1, 6, 12, 3, 9, 18, 0, 6, 12, 2,
    8, 4, 11, 1, 7, 3, 10, 0, 6, 2,
    8, 4, 1, 7, 3, 0, 6, 2, 5, 1,
    4, 0, 3, 1, 4, 0, 2, 1, 3, 0,
    2, 1, 3, 0, 1, 24, 28, 33, 40, 46,
]

panels = [
    ("OD", od_x, od_y), ("OS", os_x, os_y),
    ("Buu", buu_x, buu_y), ("Buw", buw_x, buw_y),
    ("Cdu", cdu_x, cdu_y), ("Cdw", cdw_x, cdw_y),
    ("Euu", euu_x, euu_y), ("Katzdu", katz_x, katz_y),
]
x_ticks = [0.0, 0.2, 0.4, 0.6, 0.8, 1.0]
y_ticks = [0, 200]

W, H = 3300, 2400
FONT = "DejaVu Sans"
col_left, col_right = [331, 1893], [1586, 3148]
row_top, row_bot = [241, 792, 1343, 1894], [555, 1106, 1657, 2208]
LABEL = 33
SUB = 23

fig = go.Figure()
fig.add_annotation(
    text="socfb-Howard90", x=1656 / W, y=1 - 68 / H, xref="paper", yref="paper",
    xanchor="center", yanchor="middle", showarrow=False,
    font=dict(family=FONT, size=60, color="black"),
)

axis_style = dict(
    showgrid=True, gridcolor="#b0b0b0", gridwidth=3, zeroline=False,
    showline=True, linecolor="black", linewidth=3, mirror=True,
    ticks="outside", ticklen=15, tickwidth=3, tickcolor="black",
    tickfont=dict(family=FONT, size=40, color="black"),
    layer="above traces",
)

layout = {}
for i, (name, xs, ys) in enumerate(panels):
    assert len(xs) == len(ys), name
    r, c = divmod(i, 2)
    n = "" if i == 0 else str(i + 1)
    fig.add_trace(go.Scatter(
        x=xs, y=ys, mode="markers", xaxis="x" + n, yaxis="y" + n,
        marker=dict(color="blue", size=7.5, line=dict(width=0)),
    ))
    l, rt = col_left[c], col_right[c]
    t, b = row_top[r], row_bot[r]
    xr = [0.140, 1.041] if name == "Katzdu" else [-0.05, 1.05]
    layout["xaxis" + n] = dict(
        axis_style, domain=[l / W, rt / W], anchor="y" + n, range=xr,
        tickvals=x_ticks, tickformat=".1f",
    )
    layout["yaxis" + n] = dict(
        axis_style, domain=[1 - b / H, 1 - t / H], anchor="x" + n,
        range=[-18.5, 393], tickvals=y_ticks,
        title=dict(text="expected spread", standoff=28,
                   font=dict(family=FONT, size=LABEL, color="black")),
    )
    # x label: italic C with an italic subscript, as two plain texts
    c_w = 0.70 * LABEL
    sub_w = 0.64 * SUB * len(name)
    joint = (l + rt) / 2 + (c_w - sub_w) / 2
    fig.add_annotation(
        text="C", x=joint / W, y=1 - (b + 106) / H, xref="paper", yref="paper",
        xanchor="right", yanchor="middle", showarrow=False, xshift=2,
        font=dict(family=FONT, size=LABEL, color="black", style="italic"),
    )
    fig.add_annotation(
        text=name, x=joint / W, y=1 - (b + 118) / H, xref="paper", yref="paper",
        xanchor="left", yanchor="middle", showarrow=False,
        font=dict(family=FONT, size=SUB, color="black", style="italic"),
    )

fig.update_layout(
    width=W, height=H, margin=dict(l=0, r=0, t=0, b=0),
    paper_bgcolor="white", plot_bgcolor="white", showlegend=False,
    font=dict(family=FONT, color="black"),
    **layout,
)
fig.write_html("out.html")
